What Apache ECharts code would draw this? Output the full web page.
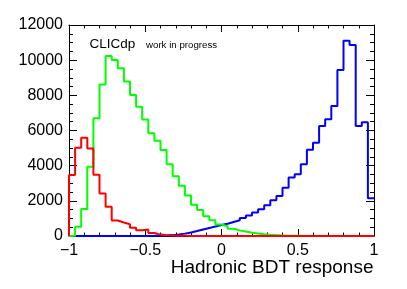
<!DOCTYPE html>
<html>
<head>
<meta charset="utf-8">
<script src="https://cdn.jsdelivr.net/npm/echarts@6/dist/echarts.min.js"></script>
<style>
html,body{margin:0;padding:0;background:#fff;}
#chart{width:407px;height:289px;}
</style>
</head>
<body>
<div id="chart"></div>
<script>
// ---- data (50 bins from -1 to 1) ----
const binLow = -1;
const binWidth = 0.04;
const xTickValues = [-1, -0.5, 0, 0.5, 1];
const xTickLabels = ['\u22121', '\u22120.5', '0', '0.5', '1'];
const yTickValues = [0, 2000, 4000, 6000, 8000, 10000, 12000];
const yTickLabels = ['0', '2000', '4000', '6000', '8000', '10000', '12000'];
const xTitle = 'Hadronic BDT response';
const labelMain = 'CLICdp';
const labelSub = 'work in progress';

const redCounts = [3470,5020,5590,4970,3490,2410,1670,880,770,670,
                   470,330,370,170,80,40,25,15,10,5,
                   3,2,1,0,0,0,0,0,0,0,
                   0,0,0,0,0,0,0,0,0,0,
                   0,0,0,0,0,0,0,0,0,0];
const greenCounts = [20,530,1540,3940,6690,8610,10240,10010,9540,8780,
                     8020,7350,6620,5840,5420,4890,4080,3400,2860,2300,
                     1780,1480,1120,890,650,550,410,320,250,190,
                     140,100,70,50,35,20,12,8,5,3,
                     2,1,0,0,0,0,0,0,0,0];
const blueCounts = [0,0,0,0,0,0,0,0,0,0,
                    0,0,3,8,15,30,50,85,135,200,
                    280,370,460,540,620,700,800,900,1020,1160,
                    1330,1520,1750,2030,2280,2750,3320,3510,4075,4910,
                    5310,6260,6635,7390,9440,11100,10860,6260,6470,2150];

// build step outline points at bin edges
function outline(counts) {
  const pts = [[binLow, 0]];
  for (let i = 0; i < counts.length; i++) {
    pts.push([+(binLow + i * binWidth).toFixed(4), counts[i]]);
  }
  pts.push([+(binLow + counts.length * binWidth).toFixed(4), counts[counts.length - 1]]);
  return pts;
}

const FONT = '"Liberation Sans", Arial, Helvetica, sans-serif';
function xFmt(v) {
  const i = xTickValues.findIndex(t => Math.abs(t - v) < 1e-9);
  return i >= 0 ? xTickLabels[i] : '';
}
function yFmt(v) {
  const i = yTickValues.findIndex(t => Math.abs(t - v) < 1e-6);
  return i >= 0 ? yTickLabels[i] : '';
}

function xAxisDef(pos, showLabels) {
  return {
    type: 'value', position: pos, min: -1, max: 1, interval: 0.5,
    axisLine: {show: true, onZero: false, lineStyle: {color: '#000', width: 1}},
    axisTick: {show: true, inside: true, length: 7, lineStyle: {color: '#000', width: 1}},
    minorTick: {show: true, splitNumber: 5, length: 3.5, lineStyle: {color: '#000', width: 1}},
    splitLine: {show: false}, minorSplitLine: {show: false},
    axisLabel: {show: showLabels, margin: 7, fontSize: 16, fontFamily: FONT, color: '#000',
                formatter: xFmt, showMinLabel: true, showMaxLabel: true, hideOverlap: false}
  };
}
function yAxisDef(pos, showLabels) {
  return {
    type: 'value', position: pos, min: 0, max: 12000, interval: 2000,
    axisLine: {show: true, onZero: false, lineStyle: {color: '#000', width: 1}},
    axisTick: {show: true, inside: true, length: 8, lineStyle: {color: '#000', width: 1}},
    minorTick: {show: true, splitNumber: 4, length: 4, lineStyle: {color: '#000', width: 1}},
    splitLine: {show: false}, minorSplitLine: {show: false},
    axisLabel: {show: showLabels, margin: 6, fontSize: 16, fontFamily: FONT, color: '#000',
                formatter: yFmt, showMinLabel: true, showMaxLabel: true, hideOverlap: false}
  };
}

function histSeries(name, counts, color) {
  return {
    name: name, type: 'line', step: 'end', data: outline(counts),
    xAxisIndex: 0, yAxisIndex: 0,
    showSymbol: false, symbol: 'none', animation: false,
    lineStyle: {color: color, width: 2}, itemStyle: {color: color},
    emphasis: {disabled: true}
  };
}

const chart = echarts.init(document.getElementById('chart'), null, {renderer: 'canvas'});
chart.setOption({
  animation: false,
  backgroundColor: '#fff',
  grid: {left: 69, right: 33, top: 25, bottom: 53, containLabel: false, show: false},
  xAxis: [xAxisDef('bottom', true), xAxisDef('top', false)],
  yAxis: [yAxisDef('left', true), yAxisDef('right', false)],
  series: [
    histSeries('blue', blueCounts, '#0000ff'),
    histSeries('green', greenCounts, '#00ff00'),
    histSeries('red', redCounts, '#ff0000')
  ],
  graphic: [
    {type: 'text', x: 89.5, y: 44.5,
     style: {text: labelMain, font: '13.5px ' + FONT, fill: '#000',
             align: 'left', verticalAlign: 'middle', textAlign: 'left', textVerticalAlign: 'middle'}},
    {type: 'text', x: 146, y: 45,
     style: {text: labelSub, font: '9.7px ' + FONT, fill: '#000',
             align: 'left', verticalAlign: 'middle', textAlign: 'left', textVerticalAlign: 'middle'}},
    {type: 'text', x: 373.5, y: 267.6,
     style: {text: xTitle, font: '19px ' + FONT, fill: '#000',
             align: 'right', verticalAlign: 'middle', textAlign: 'right', textVerticalAlign: 'middle'}}
  ]
});
</script>
</body>
</html>
